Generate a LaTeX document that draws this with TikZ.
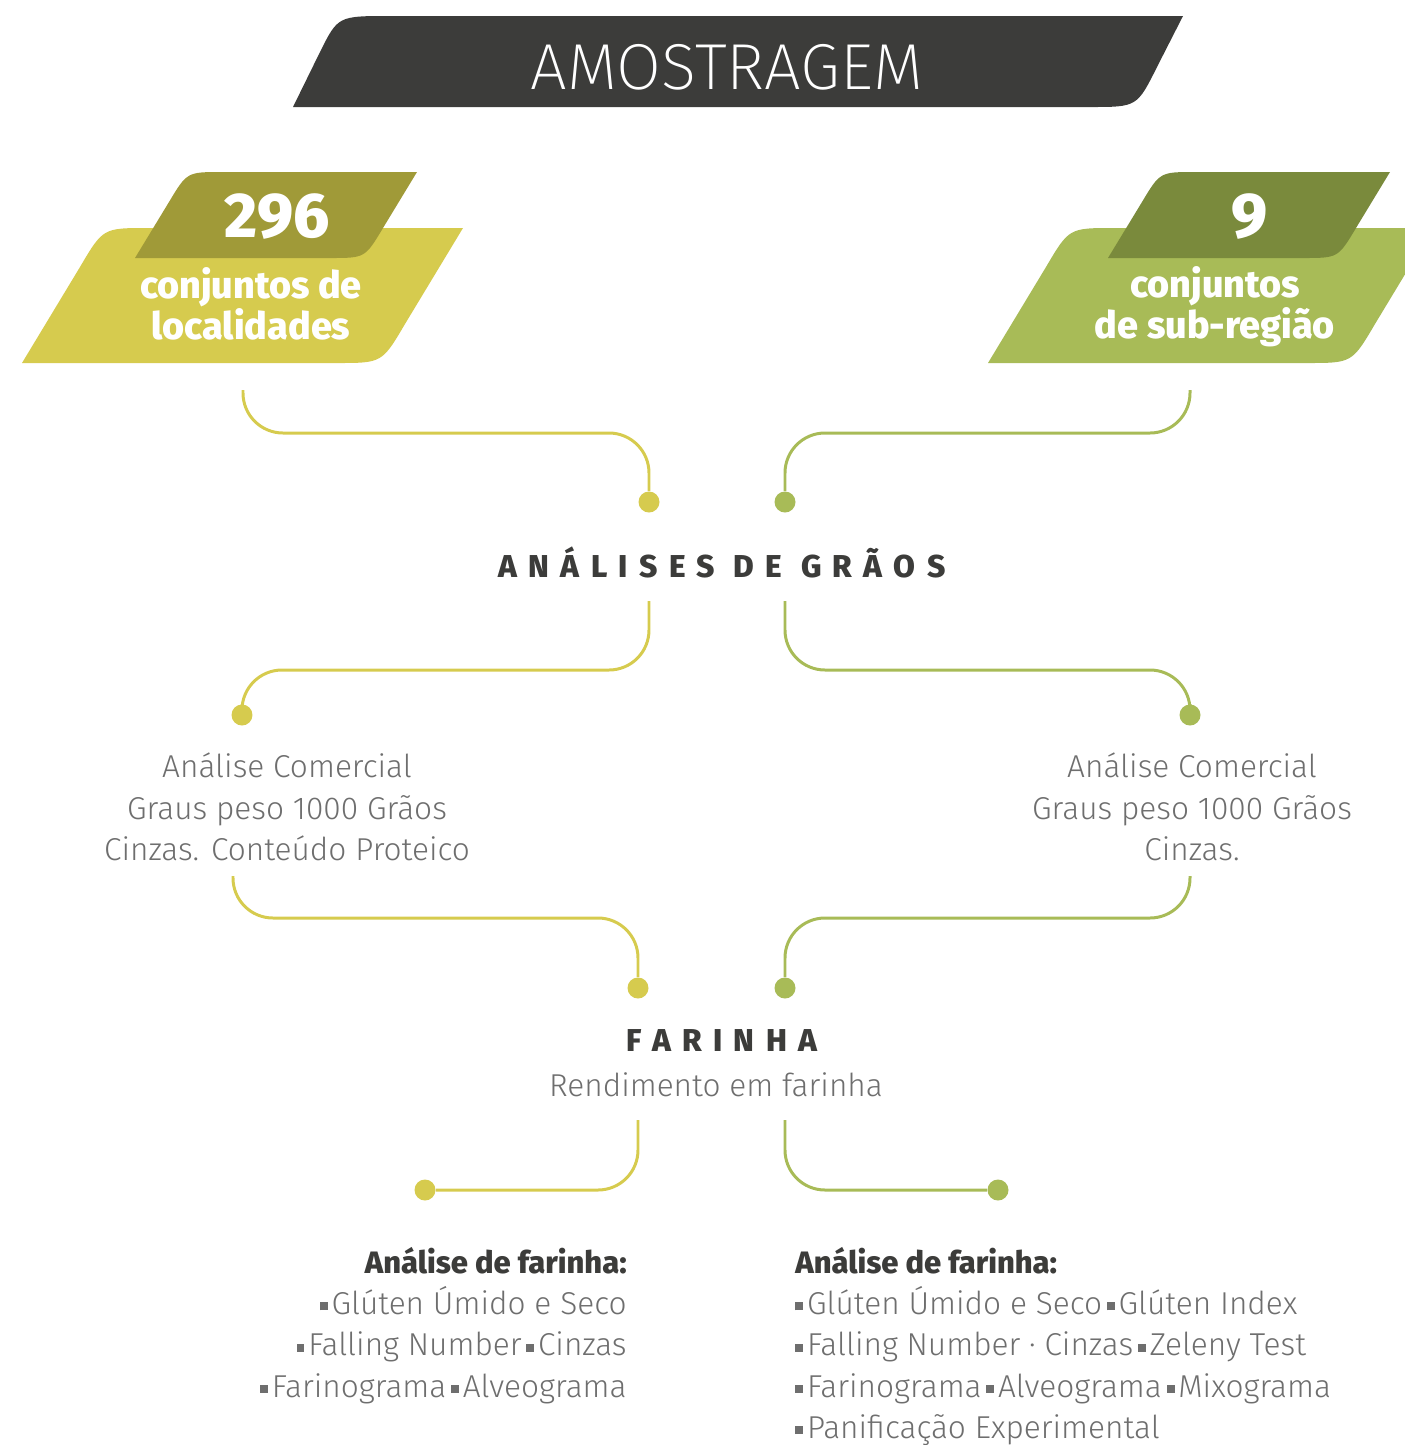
\documentclass[tikz,border=0pt]{standalone}
\usepackage{fontspec}
\setmainfont{Fira Sans}[UprightFont=* Light, BoldFont=* Bold]
\newfontfamily\thinfont{Fira Sans}[UprightFont=* ExtraLight]
\newfontfamily\heavyfont{Fira Sans}[UprightFont=* ExtraBold]
\newfontfamily\spacedfont{Fira Sans}[UprightFont=* ExtraBold, LetterSpace=36]
\usetikzlibrary{positioning}

\definecolor{bannergray}{HTML}{3C3C3A}
\definecolor{yellowL}{HTML}{D6CB4E}
\definecolor{oliveD}{HTML}{A09A38}
\definecolor{greenL}{HTML}{A8BB57}
\definecolor{greenD}{HTML}{7A8A3C}
\definecolor{textgray}{HTML}{6E6E6E}

\newcommand\bsq{\rule[0.13em]{0.25em}{0.25em}\hspace{0.12em}}
\newcommand\msq{\hspace{0.15em}\bsq}

\tikzset{
  lineY/.style={draw=yellowL, line width=1.7pt, rounded corners=0.8cm},
  lineG/.style={draw=greenL, line width=1.7pt, rounded corners=0.8cm},
  dotY/.style={circle, fill=yellowL, inner sep=0pt, minimum size=0.42cm},
  dotG/.style={circle, fill=greenL, inner sep=0pt, minimum size=0.42cm},
  bodytxt/.style={text=textgray, font=\fontsize{18}{23.5}\selectfont, inner sep=0pt},
  headtxt/.style={text=bannergray, font=\heavyfont\fontsize{17.6}{20}\selectfont, inner sep=0pt},
  spaced/.style={text=bannergray, font=\spacedfont\fontsize{18}{20}\selectfont, inner sep=0pt},
  badgetxt/.style={text=white, font=\heavyfont\fontsize{21.5}{21}\selectfont, align=center, inner sep=0pt},
  bignum/.style={text=white, font=\heavyfont\fontsize{36}{36}\selectfont, inner sep=0pt}
}

\begin{document}
\begin{tikzpicture}[x=0.02cm, y=-0.02cm]
  \useasboundingbox (0,0) rectangle (1405,1445);
  \clip (0,0) rectangle (1405,1445);
  \fill[bannergray] (293,107) -- (320,52) .. controls (338,16) .. (390,16) -- (1183,16)
    -- (1157,67) .. controls (1137,107) .. (1090,107) -- cycle;
  \node[text=white, font=\thinfont\fontsize{37}{40}\selectfont] (title) at (727,67) {AMOSTRAGEM};

  \fill[yellowL] (22,363) -- (80,267) .. controls (103,228) .. (148,228) -- (463,228)
    -- (405,324) .. controls (382,363) .. (337,363) -- cycle;
  \fill[oliveD] (135,258) -- (169,202) .. controls (187,172) .. (222,172) -- (417,172)
    -- (383,228) .. controls (365,258) .. (330,258) -- cycle;
  \fill[greenL] (988,363) -- (1046,267) .. controls (1069,228) .. (1114,228) -- (1433,228)
    -- (1375,324) .. controls (1352,363) .. (1307,363) -- cycle;
  \fill[greenD] (1108,258) -- (1142,202) .. controls (1160,172) .. (1195,172) -- (1390,172)
    -- (1356,228) .. controls (1338,258) .. (1303,258) -- cycle;
  \node[bignum] (n296) at (277,217) {296};
  \node[badgetxt] (locL) at (251,304) {conjuntos de\\localidades};
  \node[bignum] (n9) at (1250,217) {9};
  \node[badgetxt] (subR) at (1215,307) {conjuntos\\de sub-região};

  \node[spaced] (graos) at (722,562) {ANÁLISES DE GRÃOS};
  \node[bodytxt, align=center] (comL) at (287,807) {Análise Comercial\\Graus peso 1000 Grãos\\Cinzas. Conteúdo Proteico};
  \node[bodytxt, align=center] (comR) at (1192,807) {Análise Comercial\\Graus peso 1000 Grãos\\Cinzas.};
  \node[spaced] (farinha) at (722,1040) {FARINHA};
  \node[bodytxt] (rend) at (716,1085) {Rendimento em farinha};
  \node[headtxt, anchor=base east] (fhL) at (627,1273) {Análise de farinha:};
  \node[bodytxt, align=right, anchor=north east] (flL) at (627,1286)
    {\bsq Glúten Úmido e Seco\\\bsq Falling Number\msq Cinzas\\\bsq Farinograma\msq Alveograma};
  \node[headtxt, anchor=base west] (fhR) at (795,1273) {Análise de farinha:};
  \node[bodytxt, align=left, anchor=north west] (flR) at (795,1286)
    {\bsq Glúten Úmido e Seco\msq Glúten Index\\\bsq Falling Number · Cinzas\msq Zeleny Test\\
     \bsq Farinograma\msq Alveograma\msq Mixograma\\\bsq Panificação Experimental};

  \coordinate (c1l) at (243,390);
  \coordinate (c1r) at (1190,390);
  \coordinate (c2l) at (649,601);
  \coordinate (c2r) at (785,601);
  \coordinate (c3l) at (233,876);
  \coordinate (c3r) at (1190,876);
  \coordinate (c4l) at (638,1120);
  \coordinate (c4r) at (785,1120);
  \node[dotY] (d1l) at (649,502) {};
  \node[dotG] (d1r) at (785,502) {};
  \node[dotY] (d2l) at (242,715) {};
  \node[dotG] (d2r) at (1190,715) {};
  \node[dotY] (d3l) at (638,988) {};
  \node[dotG] (d3r) at (785,988) {};
  \node[dotY] (d4l) at (425,1190) {};
  \node[dotG] (d4r) at (998,1190) {};
  \draw[lineY] (c1l) -- ++(0,43) -| (d1l);
  \draw[lineG] (c1r) -- ++(0,43) -| (d1r);
  \draw[lineY] (c2l) -- ++(0,69) -| (d2l);
  \draw[lineG] (c2r) -- ++(0,69) -| (d2r);
  \draw[lineY] (c3l) -- ++(0,42) -| (d3l);
  \draw[lineG] (c3r) -- ++(0,42) -| (d3r);
  \draw[lineY] (c4l) |- (d4l);
  \draw[lineG] (c4r) |- (d4r);
\end{tikzpicture}
\end{document}
